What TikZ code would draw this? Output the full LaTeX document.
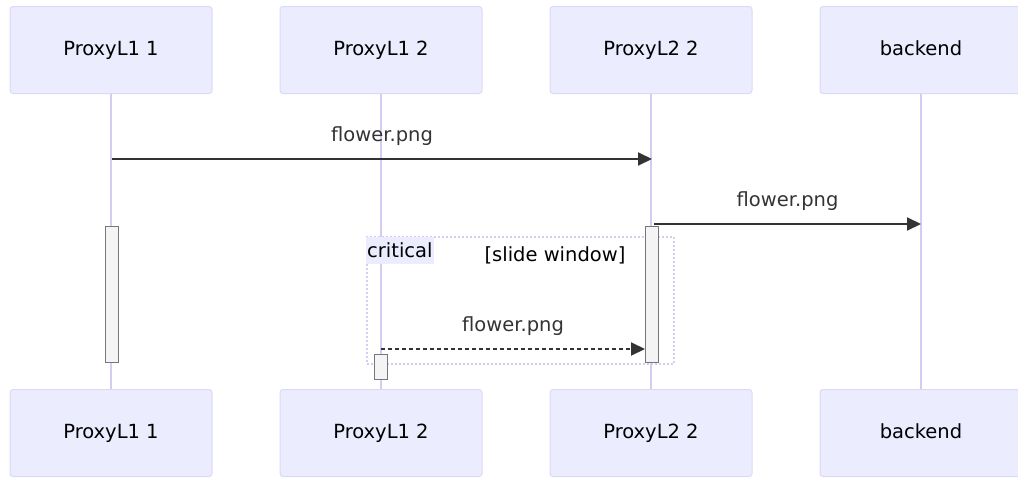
\documentclass[tikz,border=0pt]{standalone}
\usepackage{fontspec}
\setmainfont{DejaVu Sans}
\usepackage{xcolor}
\usetikzlibrary{positioning, arrows.meta}

\definecolor{actorfill}{HTML}{ECECFF}
\definecolor{actorline}{HTML}{DDD8F8}
\definecolor{lifecol}{HTML}{D5CCF4}
\definecolor{msgcol}{HTML}{333333}
\definecolor{barfill}{HTML}{F4F4F4}
\definecolor{barline}{HTML}{777777}

\tikzset{
    actor/.style={draw=actorline, fill=actorfill, rounded corners=3pt, line width=1pt,
        minimum width=202pt, minimum height=87pt, text height=14pt, text depth=4pt,
        font=\fontsize{19.5}{23}\selectfont},
    lifeline/.style={draw=lifecol, line width=1.6pt},
    actbar/.style={draw=barline, fill=barfill, line width=1.3pt, minimum width=13pt, inner sep=0pt},
    msg/.style={draw=msgcol, line width=2pt, -{Triangle[length=14pt, width=13pt]}},
    msglabel/.style={font=\fontsize{19.5}{23}\selectfont, text=msgcol},
}

\begin{document}
\begin{tikzpicture}[x=1pt, y=-1pt, node distance=270pt, on grid]
    \useasboundingbox (0,0) rectangle (1018,477);

    % participants, top row
    \node[actor] (top1) at (111,50) {ProxyL1 1};
    \node[actor, right=of top1] (top2) {ProxyL1 2};
    \node[actor, right=of top2] (top3) {ProxyL2 2};
    \node[actor, right=of top3] (top4) {backend};

    % participants, bottom row
    \node[actor] (bot1) at (111,433) {ProxyL1 1};
    \node[actor, right=of bot1] (bot2) {ProxyL1 2};
    \node[actor, right=of bot2] (bot3) {ProxyL2 2};
    \node[actor, right=of bot3] (bot4) {backend};

    % lifelines
    \foreach \i in {1,...,4}
        \draw[lifeline] (top\i) -- (bot\i);

    % critical region
    \node[draw=lifecol, dash pattern=on 2pt off 2pt, line width=2pt, minimum width=307pt,
        minimum height=127pt, anchor=north west] (crit) at (366,236) {};
    \node[fill=actorfill, anchor=north west, inner sep=1pt, minimum height=27pt,
        font=\fontsize{19.5}{23}\selectfont] (critlbl) at (366,237) {critical};
    \node[msglabel, text=black] (critcond) at (555,255) {[slide window]};

    % activations
    \node[actbar, minimum height=136pt, anchor=north] (bar1) at (112,226) {};
    \node[actbar, minimum height=136pt, anchor=north] (bar3) at (652,226) {};
    \node[actbar, minimum height=25pt, anchor=north] (bar2) at (381,354) {};

    % message end points
    \coordinate (m1a) at (112,159);
    \coordinate (m1b) at (652,159);
    \coordinate (m2a) at (654,224);
    \coordinate (m2b) at (921,224);
    \coordinate (m3a) at (381,349);
    \coordinate (m3b) at (645,349);

    \path
        (m1a) edge[msg] node[msglabel, above=9pt] {flower.png} (m1b)
        (m2a) edge[msg] node[msglabel, above=9pt] {flower.png} (m2b);
    \draw[msg, dash pattern=on 4pt off 3pt] (m3a) -- node[msglabel, above=9pt] {flower.png} (m3b);
\end{tikzpicture}
\end{document}
